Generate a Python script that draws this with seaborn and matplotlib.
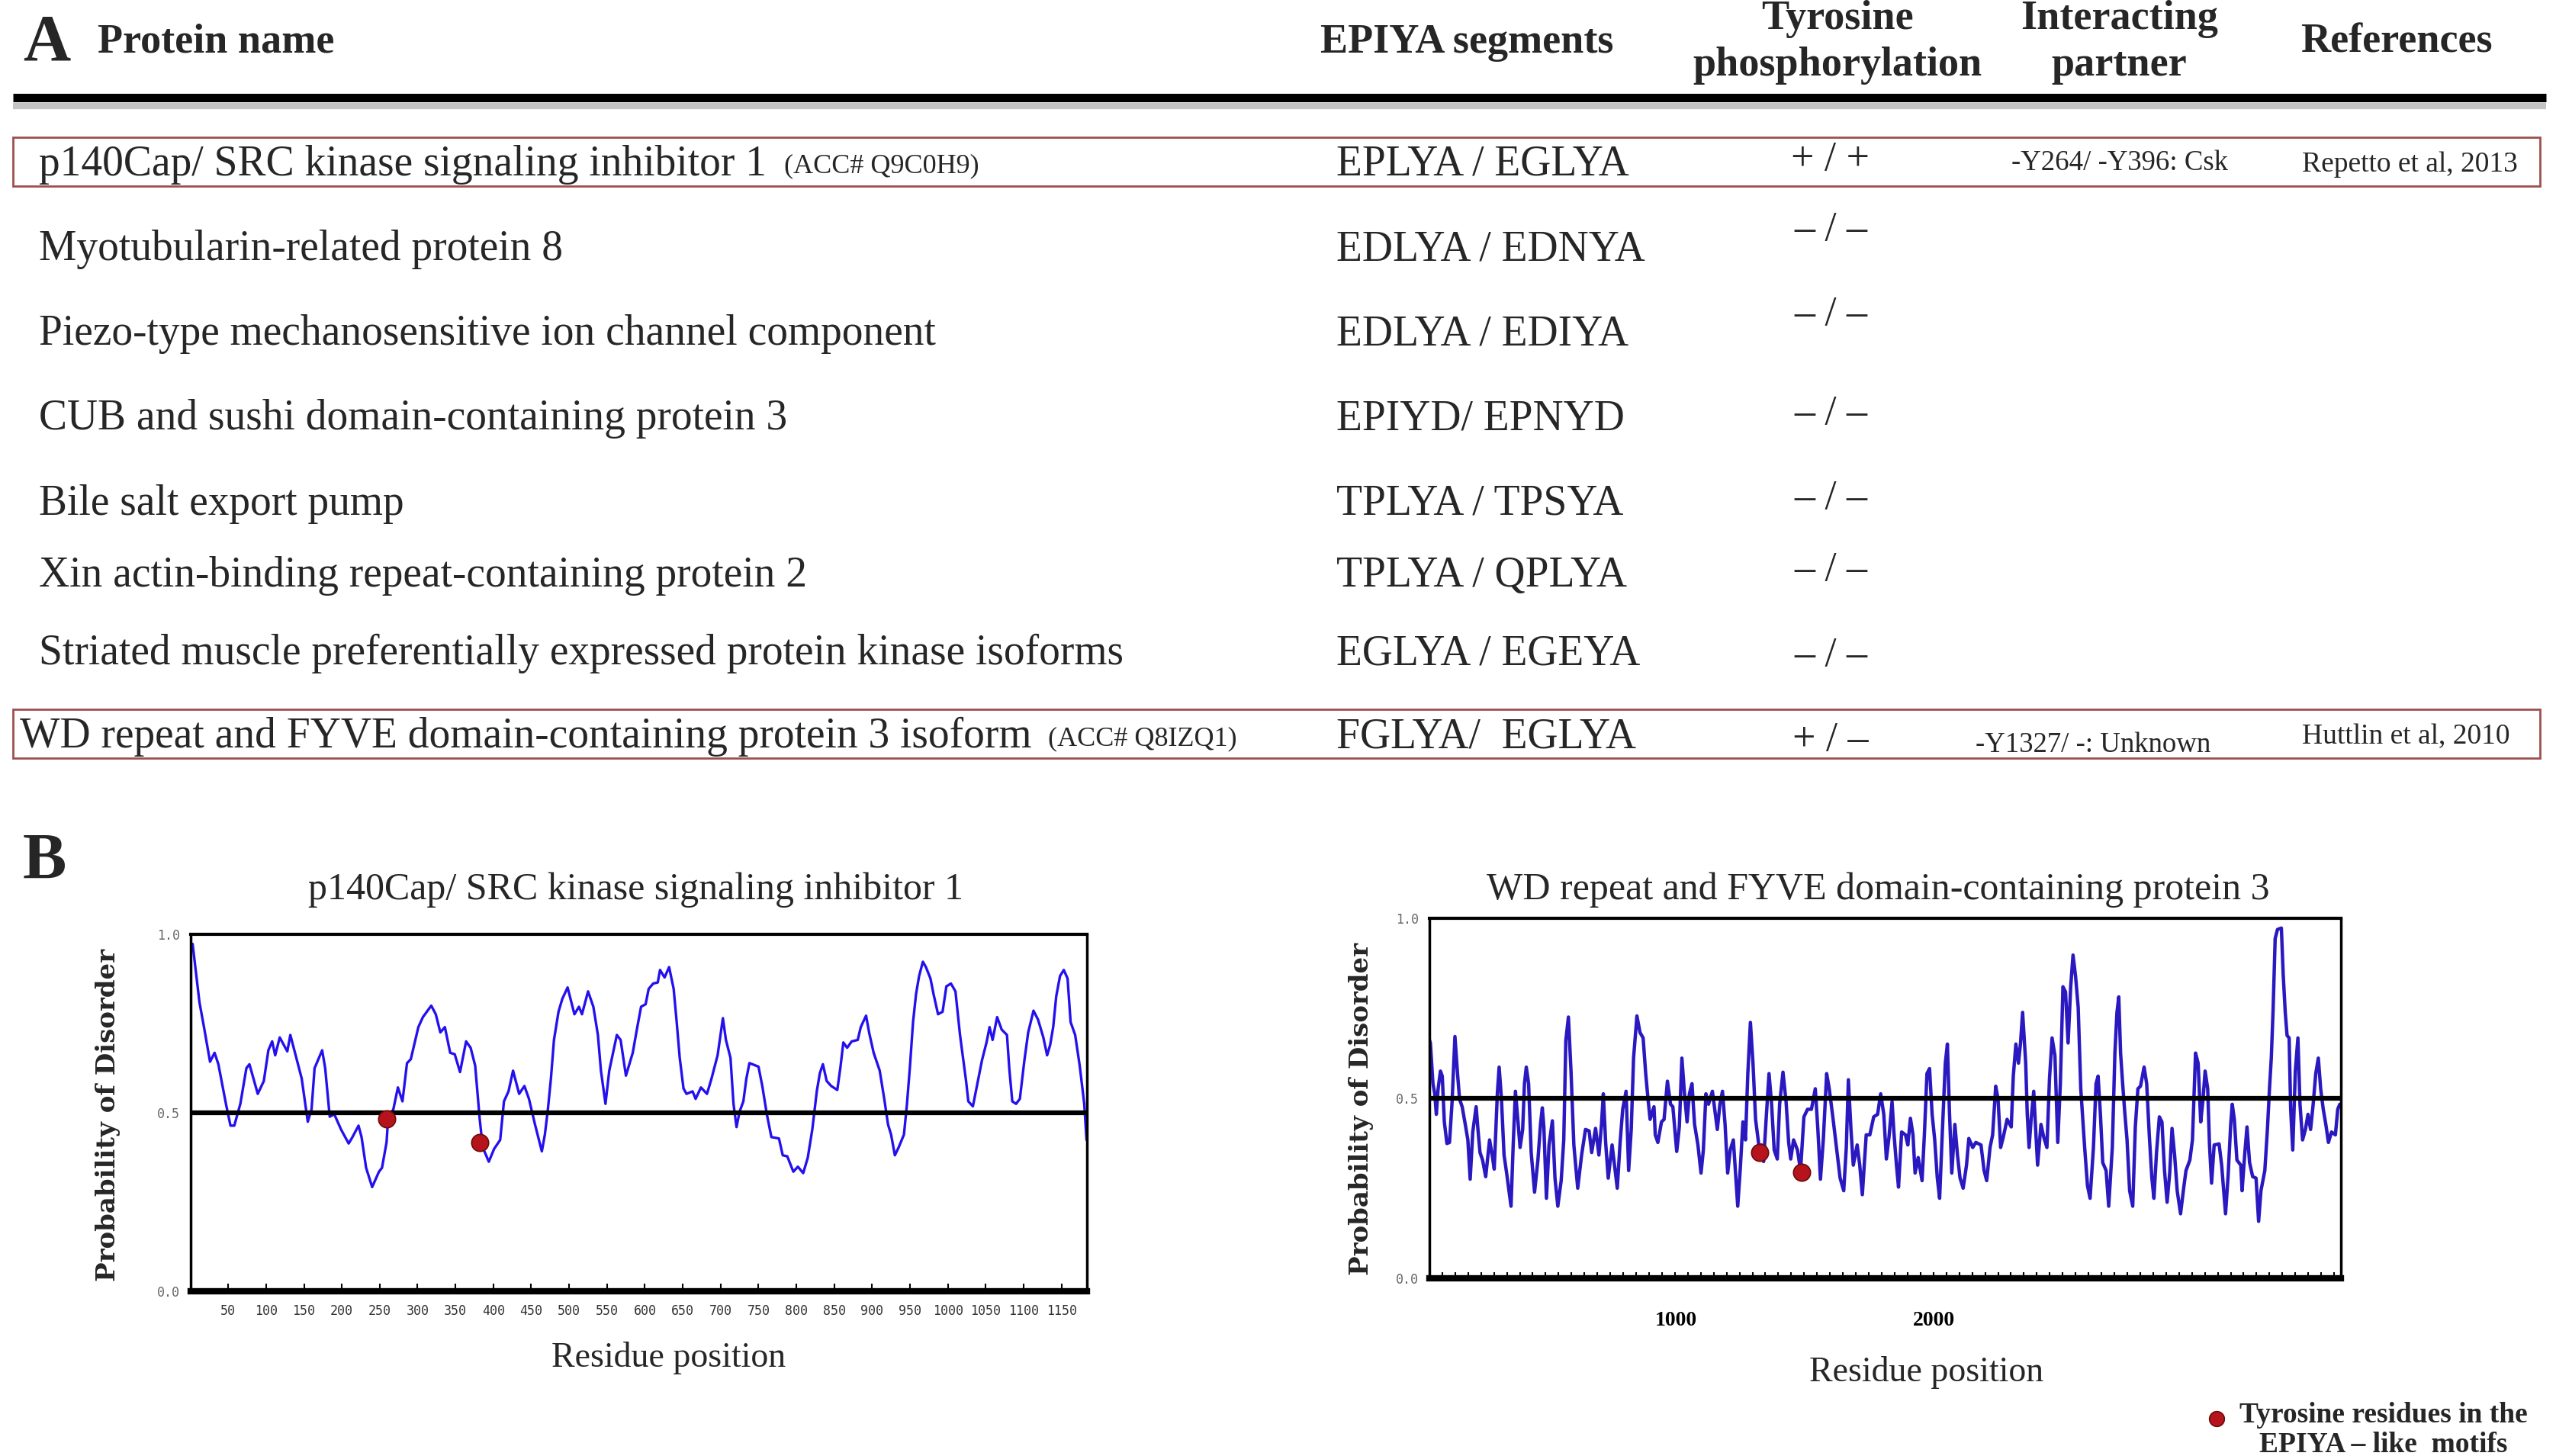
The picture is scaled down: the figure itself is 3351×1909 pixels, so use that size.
import matplotlib
matplotlib.use("Agg")
import matplotlib.pyplot as plt
from matplotlib.patches import Rectangle
from matplotlib.transforms import ScaledTranslation
import seaborn as sns

# ---- panel A: table ----
header_cols = ["Protein name", "EPIYA segments", "Tyrosine\nphosphorylation",
               "Interacting\npartner", "References"]
protein_names = [
    "p140Cap/ SRC kinase signaling inhibitor 1",
    "Myotubularin-related protein 8",
    "Piezo-type mechanosensitive ion channel component",
    "CUB and sushi domain-containing protein 3",
    "Bile salt export pump",
    "Xin actin-binding repeat-containing protein 2",
    "Striated muscle preferentially expressed protein kinase isoforms",
    "WD repeat and FYVE domain-containing protein 3 isoform",
]
acc_ids = ["(ACC# Q9C0H9)", "", "", "", "", "", "", "(ACC# Q8IZQ1)"]
epiya_segments = ["EPLYA / EGLYA", "EDLYA / EDNYA", "EDLYA / EDIYA", "EPIYD/ EPNYD",
                  "TPLYA / TPSYA", "TPLYA / QPLYA", "EGLYA / EGEYA", "FGLYA/  EGLYA"]
phosphorylation = ["+ / +", "– / –", "– / –", "– / –", "– / –", "– / –", "– / –", "+ / –"]
partners = ["-Y264/ -Y396: Csk", "", "", "", "", "", "", "-Y1327/ -: Unknown"]
references = ["Repetto et al, 2013", "", "", "", "", "", "", "Huttlin et al, 2010"]
boxed_rows = [0, 7]

# ---- panel B: disorder profiles ----
p140_title = "p140Cap/ SRC kinase signaling inhibitor 1"
p140_pos = [1, 3, 8, 12, 18, 26, 32, 37, 47, 53, 58, 66, 74, 78, 89, 97, 103, 108, 112, 118,
            128, 132, 139, 147, 155, 160, 164, 174, 178, 184, 190, 199, 209, 214, 222, 226, 232,
            240, 249, 253, 259, 261, 268, 274, 280, 286, 291, 301, 307, 318, 324, 330, 336, 343,
            349, 356, 364, 370, 376, 382, 386, 394, 401, 409, 414, 420, 426, 434, 441, 447, 455,
            464, 468, 472, 476, 480, 486, 491, 498, 507, 513, 517, 525, 532, 538, 542, 548, 553,
            563, 568, 575, 584, 590, 595, 601, 605, 611, 617, 620, 626, 632, 638, 642, 646, 651,
            655, 663, 667, 674, 682, 688, 696, 703, 707, 713, 717, 721, 725, 730, 734, 738, 742,
            750, 755, 761, 767, 777, 782, 788, 796, 802, 809, 815, 821, 827, 831, 835, 840, 846,
            854, 858, 862, 867, 873, 881, 885, 892, 896, 902, 910, 916, 921, 925, 930, 935, 942,
            946, 950, 954, 958, 962, 967, 971, 977, 981, 987, 993, 998, 1004, 1010, 1016, 1024,
            1027, 1033, 1039, 1045, 1051, 1055, 1059, 1065, 1071, 1078, 1081, 1085, 1090, 1095,
            1101, 1106, 1113, 1119, 1126, 1131, 1135, 1139, 1143, 1148, 1153, 1158, 1162, 1168,
            1174, 1180, 1183]
p140_prob = [0.97, 0.973, 0.883, 0.81, 0.74, 0.643, 0.668, 0.636, 0.525, 0.464, 0.464, 0.525,
             0.625, 0.636, 0.553, 0.589, 0.675, 0.70, 0.661, 0.711, 0.672, 0.718, 0.661, 0.596,
             0.475, 0.51, 0.625, 0.675, 0.625, 0.489, 0.496, 0.453, 0.414, 0.432, 0.464, 0.432,
             0.346, 0.292, 0.335, 0.346, 0.417, 0.482, 0.51, 0.571, 0.532, 0.639, 0.65, 0.74,
             0.768, 0.80, 0.776, 0.725, 0.74, 0.668, 0.664, 0.614, 0.70, 0.682, 0.632, 0.482,
             0.403, 0.363, 0.399, 0.424, 0.532, 0.56, 0.618, 0.553, 0.575, 0.539, 0.467, 0.392,
             0.439, 0.51, 0.596, 0.704, 0.783, 0.819, 0.851, 0.776, 0.797, 0.776, 0.84, 0.797,
             0.718, 0.618, 0.525, 0.618, 0.718, 0.704, 0.604, 0.668, 0.74, 0.797, 0.804, 0.847,
             0.862, 0.865, 0.90, 0.879, 0.908, 0.847, 0.754, 0.654, 0.568, 0.553, 0.56, 0.539,
             0.571, 0.553, 0.596, 0.661, 0.765, 0.704, 0.654, 0.525, 0.46, 0.503, 0.532, 0.596,
             0.639, 0.636, 0.629, 0.575, 0.496, 0.432, 0.428, 0.381, 0.378, 0.335, 0.349, 0.331,
             0.374, 0.453, 0.561, 0.611, 0.636, 0.589, 0.575, 0.564, 0.625, 0.697, 0.682, 0.70,
             0.704, 0.74, 0.772, 0.725, 0.668, 0.618, 0.539, 0.467, 0.439, 0.381, 0.403, 0.439,
             0.525, 0.632, 0.754, 0.833, 0.883, 0.923, 0.908, 0.876, 0.833, 0.776, 0.783, 0.854,
             0.862, 0.84, 0.718, 0.589, 0.532, 0.518, 0.582, 0.647, 0.697, 0.74, 0.704, 0.768,
             0.733, 0.718, 0.625, 0.532, 0.525, 0.539, 0.647, 0.725, 0.786, 0.761, 0.711, 0.661,
             0.69, 0.74, 0.826, 0.883, 0.90, 0.876, 0.754, 0.718, 0.632, 0.525, 0.424]
p140_tyr_pos = [259, 382]
p140_tyr_prob = [0.482, 0.417]
p140_ticks = list(range(50, 1151, 50))

wdfy3_title = "WD repeat and FYVE domain-containing protein 3"
wdfy3_pos = [1, 4, 14, 21, 27, 34, 43, 50, 58, 68, 78, 88, 99, 109, 117, 127, 139, 149, 158, 168,
             181, 188, 196, 206, 218, 233, 243, 251, 263, 270, 279, 289, 299, 316, 324, 333, 343,
             351, 361, 368, 375, 384, 394, 407, 420, 430, 437, 443, 453, 463, 476, 486, 497, 510,
             520, 528, 538, 548, 559, 574, 589, 604, 618, 628, 643, 656, 666, 673, 682, 692, 707,
             727, 738, 748, 761, 771, 781, 790, 803, 815, 827, 837, 846, 854, 869, 874, 884, 898,
             908, 921, 933, 942, 957, 967, 977, 987, 997, 1006, 1016, 1026, 1039, 1051, 1060, 1070,
             1080, 1095, 1114, 1124, 1134, 1144, 1154, 1164, 1176, 1193, 1203, 1213, 1223, 1232,
             1242, 1252, 1262, 1277, 1285, 1293, 1304, 1314, 1324, 1334, 1346, 1355, 1368, 1380,
             1390, 1398, 1409, 1424, 1436, 1449, 1463, 1478, 1493, 1503, 1513, 1524, 1537, 1547,
             1562, 1576, 1589, 1603, 1613, 1621, 1631, 1640, 1655, 1665, 1675, 1690, 1704, 1719,
             1734, 1746, 1758, 1768, 1778, 1790, 1797, 1807, 1815, 1827, 1842, 1851, 1861, 1871,
             1879, 1891, 1906, 1915, 1925, 1935, 1945, 1955, 1965, 1974, 1984, 1996, 2004, 2012,
             2021, 2033, 2043, 2053, 2065, 2078, 2087, 2102, 2114, 2134, 2146, 2156, 2169, 2179,
             2191, 2200, 2210, 2220, 2235, 2251, 2259, 2269, 2279, 2287, 2295, 2307, 2313, 2320,
             2328, 2338, 2345, 2353, 2366, 2377, 2389, 2399, 2409, 2420, 2431, 2441, 2451, 2461,
             2471, 2481, 2490, 2500, 2510, 2520, 2535, 2546, 2556, 2569, 2579, 2587, 2596, 2605,
             2618, 2628, 2642, 2652, 2660, 2667, 2674, 2682, 2690, 2699, 2709, 2721, 2731, 2741,
             2751, 2765, 2775, 2785, 2795, 2803, 2813, 2824, 2834, 2844, 2854, 2864, 2873, 2883,
             2893, 2906, 2918, 2927, 2942, 2952, 2964, 2974, 2984, 2993, 3001, 3011, 3018, 3026,
             3036, 3055, 3065, 3080, 3090, 3100, 3106, 3114, 3124, 3139, 3144, 3154, 3163, 3173,
             3185, 3198, 3208, 3217, 3232, 3242, 3250, 3257, 3264, 3272, 3281, 3296, 3303, 3311,
             3318, 3326, 3332, 3340, 3350, 3360, 3368, 3378, 3389, 3399, 3409, 3419, 3429, 3439,
             3448, 3458, 3468, 3478, 3490, 3505, 3514, 3522]
wdfy3_prob = [0.66, 0.653, 0.54, 0.512, 0.455, 0.526, 0.575, 0.561, 0.434, 0.374, 0.377, 0.49,
              0.671, 0.568, 0.497, 0.476, 0.427, 0.384, 0.275, 0.406, 0.476, 0.413, 0.349, 0.328,
              0.282, 0.384, 0.342, 0.303, 0.512, 0.586, 0.497, 0.342, 0.292, 0.20, 0.363, 0.519,
              0.434, 0.363, 0.413, 0.54, 0.586, 0.54, 0.349, 0.239, 0.328, 0.427, 0.473, 0.42,
              0.222, 0.37, 0.437, 0.278, 0.20, 0.271, 0.384, 0.66, 0.725, 0.575, 0.37, 0.25, 0.342,
              0.413, 0.409, 0.349, 0.416, 0.342, 0.427, 0.512, 0.377, 0.278, 0.37, 0.25, 0.377,
              0.469, 0.519, 0.299, 0.413, 0.611, 0.728, 0.682, 0.667, 0.568, 0.497, 0.441, 0.476,
              0.398, 0.377, 0.434, 0.441, 0.547, 0.483, 0.476, 0.352, 0.42, 0.611, 0.512, 0.434,
              0.512, 0.54, 0.427, 0.37, 0.292, 0.356, 0.512, 0.483, 0.519, 0.413, 0.483, 0.519,
              0.427, 0.292, 0.356, 0.384, 0.20, 0.306, 0.434, 0.384, 0.568, 0.71, 0.597, 0.441,
              0.356, 0.37, 0.324, 0.455, 0.568, 0.483, 0.356, 0.331, 0.483, 0.572, 0.49, 0.377,
              0.331, 0.384, 0.356, 0.299, 0.448, 0.469, 0.469, 0.526, 0.413, 0.275, 0.384, 0.568,
              0.526, 0.441, 0.356, 0.278, 0.243, 0.363, 0.551, 0.413, 0.314, 0.37, 0.314, 0.232,
              0.398, 0.398, 0.448, 0.455, 0.512, 0.455, 0.331, 0.391, 0.49, 0.406, 0.314, 0.253,
              0.406, 0.398, 0.37, 0.444, 0.398, 0.292, 0.335, 0.271, 0.398, 0.568, 0.582, 0.455,
              0.384, 0.278, 0.222, 0.398, 0.597, 0.65, 0.462, 0.292, 0.427, 0.342, 0.278, 0.25,
              0.314, 0.388, 0.363, 0.377, 0.37, 0.299, 0.271, 0.363, 0.398, 0.533, 0.497, 0.363,
              0.391, 0.441, 0.42, 0.561, 0.65, 0.597, 0.653, 0.738, 0.597, 0.455, 0.363, 0.441,
              0.519, 0.42, 0.314, 0.427, 0.391, 0.363, 0.554, 0.667, 0.618, 0.377, 0.54, 0.809,
              0.795, 0.653, 0.809, 0.897, 0.837, 0.752, 0.526, 0.363, 0.257, 0.222, 0.363, 0.54,
              0.561, 0.455, 0.321, 0.299, 0.20, 0.363, 0.625, 0.738, 0.781, 0.625, 0.54, 0.462,
              0.384, 0.243, 0.20, 0.42, 0.526, 0.533, 0.586, 0.54, 0.398, 0.278, 0.222, 0.349,
              0.448, 0.434, 0.299, 0.211, 0.292, 0.416, 0.342, 0.243, 0.179, 0.25, 0.299, 0.328,
              0.384, 0.625, 0.597, 0.434, 0.497, 0.575, 0.526, 0.37, 0.264, 0.37, 0.373, 0.314,
              0.179, 0.285, 0.427, 0.483, 0.441, 0.328, 0.314, 0.243, 0.342, 0.42, 0.321, 0.282,
              0.278, 0.158, 0.243, 0.299, 0.413, 0.526, 0.611, 0.745, 0.943, 0.968, 0.972, 0.844,
              0.738, 0.674, 0.667, 0.469, 0.356, 0.575, 0.667, 0.483, 0.384, 0.413, 0.455, 0.413,
              0.483, 0.568, 0.611, 0.526, 0.469, 0.427, 0.377, 0.406, 0.398, 0.469, 0.483]
wdfy3_tyr_pos = [1277, 1439]
wdfy3_tyr_prob = [0.35, 0.294]
wdfy3_ticks = list(range(50, 3501, 50))
wdfy3_labels = ["1000", "2000"]

legend_text = "Tyrosine residues in the\nEPIYA – like  motifs"

sns.set_theme(style="white")
plt.rcParams["font.family"] = ["Liberation Serif", "DejaVu Sans"]

W, H = 1568, 893  # layout grid for the overlay
fig = plt.figure(figsize=(33.51, 19.09), dpi=100)
fig.patch.set_facecolor("white")
ov = fig.add_axes([0, 0, 1, 1])
ov.set_xlim(0, W)
ov.set_ylim(H, 0)
ov.axis("off")

# header
ov.text(14, 27, "A", fontsize=62, fontweight="bold", va="center", ha="left")
head_x = [60, 810, 1127, 1300, 1470]
head_ha = ["left", "left", "center", "center", "center"]
for txt, x, ha in zip(header_cols, head_x, head_ha):
    ov.text(x, 26, txt, fontsize=39, fontweight="bold", va="center", ha=ha, linespacing=1.28)
ov.plot([8, 1562], [65, 65], color="#c4c4c4", lw=6, solid_capstyle="butt")
ov.plot([8, 1562], [60, 60], color="black", lw=8, solid_capstyle="butt")

# rows
name_y = [101, 153, 205, 257, 309, 353, 401, 452]
phos_y = [98, 141, 193, 254, 306, 350, 402, 454]
name_x = [24, 24, 24, 24, 24, 24, 24, 12]
acc_x = [481, 0, 0, 0, 0, 0, 0, 643]
partner_xy = [(1234, 100), None, None, None, None, None, None, (1212, 457)]
for i in range(len(protein_names)):
    y = name_y[i]
    ov.text(name_x[i], y, protein_names[i], fontsize=40, va="center", ha="left")
    if acc_ids[i]:
        ov.text(acc_x[i], y + 1, acc_ids[i], fontsize=26, va="center", ha="left")
    ov.text(820, y, epiya_segments[i], fontsize=40, va="center", ha="left")
    ov.text(1123, phos_y[i], phosphorylation[i], fontsize=39, va="center", ha="center")
    if partners[i]:
        px, py = partner_xy[i]
        ov.text(px, py, partners[i], fontsize=26.5, va="center", ha="left")
    if references[i]:
        ov.text(1412, y, references[i], fontsize=27, va="center", ha="left")
for r in boxed_rows:
    top = name_y[r] - 17
    ov.add_patch(Rectangle((8, top), 1550, 30, fill=False, edgecolor="#9e4f4f", lw=2))

# panel B
ov.text(14, 529, "B", fontsize=62, fontweight="bold", va="center", ha="left")


def disorder_panel(rect, pos, prob, tyr_pos, tyr_prob, xlim, color, lw):
    ax = fig.add_axes(rect)
    sns.lineplot(x=pos, y=prob, ax=ax, color=color, linewidth=lw, estimator=None, sort=False)
    ax.axhline(0.5, color="black", lw=4.5, zorder=3)
    sns.scatterplot(x=tyr_pos, y=tyr_prob, ax=ax, color="#b5141c", s=260,
                    edgecolor="#6e0a0a", linewidth=1.2, zorder=6)
    ax.set_xlim(*xlim)
    ax.set_ylim(0, 1)
    ax.set_yticks([0.0, 0.5, 1.0])
    ax.set_yticklabels(["0.0", "0.5", "1.0"], family="DejaVu Sans Mono", fontsize=12, color="#666666")
    ax.tick_params(axis="y", length=0, pad=10)
    ax.tick_params(axis="x", direction="in", length=7, width=1.5, color="black", bottom=True)
    for side, w in [("top", 3), ("bottom", 6), ("left", 2.5), ("right", 2.5)]:
        ax.spines[side].set_color("black")
        ax.spines[side].set_linewidth(w)
    ax.set_xlabel("")
    ax.set_ylabel("")
    return ax


axl = disorder_panel([117 / W, 1 - 792 / H, 550 / W, 219 / H], p140_pos, p140_prob,
                     p140_tyr_pos, p140_tyr_prob, (0.5, 1184), "#2410ee", 2.4)
axl.set_xticks(p140_ticks)
axl.set_xticklabels([str(t) for t in p140_ticks], family="DejaVu Sans Mono", fontsize=12,
                    color="#333333")
axl.tick_params(axis="x", pad=12)

axr = disorder_panel([877 / W, 1 - 784 / H, 559 / W, 221 / H], wdfy3_pos, wdfy3_prob,
                     wdfy3_tyr_pos, wdfy3_tyr_prob, (1, 3526), "#2a18c0", 3.2)
axr.set_xticks(wdfy3_ticks)
axr.set_xticklabels([t if str(v) in wdfy3_labels else "" for v, t in
                     zip(wdfy3_ticks, [str(v) for v in wdfy3_ticks])],
                    fontsize=20, fontweight="bold", color="black")
axr.tick_params(axis="x", length=6, pad=31)
shift = ScaledTranslation(-0.16, 0, fig.dpi_scale_trans)
for lab in axr.get_xticklabels():
    lab.set_transform(lab.get_transform() + shift)

# titles and axis labels
ov.text(390, 546, p140_title, fontsize=36, va="center", ha="center")
ov.text(1152, 546, wdfy3_title, fontsize=36, va="center", ha="center")
ov.text(66, 684, "Probability of Disorder", fontsize=24.5, family="DejaVu Serif",
        fontweight="bold", rotation=90, va="center", ha="center")
ov.text(835, 680, "Probability of Disorder", fontsize=24.5, family="DejaVu Serif",
        fontweight="bold", rotation=90, va="center", ha="center")
ov.text(410, 833, "Residue position", fontsize=33, va="center", ha="center")
ov.text(1182, 842, "Residue position", fontsize=33, va="center", ha="center")

# legend
ov.scatter([1360], [870], s=200, color="#b5141c", edgecolor="#6e0a0a", lw=1.2, zorder=5)
ov.text(1462, 860, legend_text, fontsize=27, fontweight="bold", va="top", ha="center",
        linespacing=1.12)

fig.savefig("out.png", dpi=100, facecolor="white")
